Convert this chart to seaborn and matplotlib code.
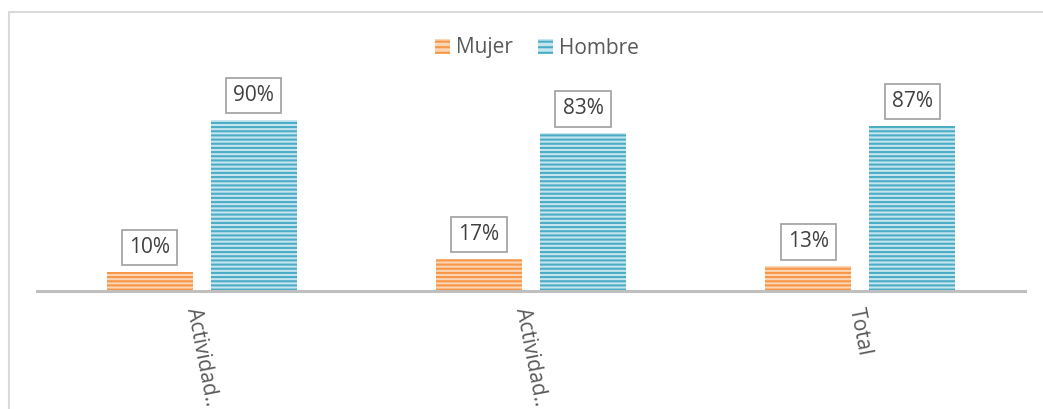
import matplotlib
matplotlib.use("Agg")
import matplotlib.pyplot as plt
import seaborn as sns
import pandas as pd
from matplotlib.patches import Rectangle, Patch

categories = ["Actividad 1", "Actividad 2", "Total"]
tick_labels = ["Actividad..", "Actividad..", "Total"]
series = ["Mujer", "Hombre"]
mujer = [0.10, 0.17, 0.13]
hombre = [0.90, 0.83, 0.87]

df = pd.DataFrame({
    "cat": categories * 2,
    "serie": ["Mujer"] * 3 + ["Hombre"] * 3,
    "val": mujer + hombre,
})

sns.set_theme(style="white")
plt.rcParams["font.family"] = ["Open Sans", "DejaVu Sans"]
plt.rcParams["hatch.linewidth"] = 1.5

dark = {"Mujer": "#F79646", "Hombre": "#4BACC6"}
light = {"Mujer": "#FCD5B5", "Hombre": "#C5E6EF"}
hatch = "----"

W, H = 1043, 409
fig = plt.figure(figsize=(W / 100, H / 100), dpi=100)
ax = fig.add_axes([37 / W, (H - 291) / H, 988 / W, 190 / H])

sns.barplot(data=df, x="cat", y="val", hue="serie", order=categories,
            hue_order=series, palette=dark, width=0.632, gap=0.173,
            legend=False, ax=ax)

for cont, s in zip(ax.containers, series):
    for p in cont:
        p.set_facecolor(light[s])
        p.set_edgecolor(dark[s])
        p.set_linewidth(0)
        p.set_hatch(hatch)
        if hasattr(p, "set_hatchcolor"):
            p.set_hatchcolor(dark[s])
    ax.bar_label(cont, labels=[f"{v:.0%}" for v in cont.datavalues],
                 padding=10, fontsize=15, color="#404040",
                 bbox=dict(boxstyle="square,pad=0.35", fc="white",
                           ec="#A6A6A6", lw=1.3))

ax.set_ylim(0, 1)
ax.set_xlim(-0.5, 2.5)
ax.set_xlabel("")
ax.set_ylabel("")
ax.set_yticks([])
ax.set_xticks(range(len(categories)))
ax.set_xticklabels(tick_labels, rotation=-79, ha="center", va="top",
                   fontsize=15, color="#595959")
ax.tick_params(axis="x", length=0, pad=11)
for side in ["top", "left", "right"]:
    ax.spines[side].set_visible(False)
ax.spines["bottom"].set_color("#BFBFBF")
ax.spines["bottom"].set_linewidth(2.2)
ax.patch.set_alpha(0)

handles = []
for s in series:
    h = Patch(facecolor=light[s], edgecolor=dark[s], hatch="---", linewidth=0)
    handles.append(h)
leg = fig.legend(handles, series, loc="center", bbox_to_anchor=(0.515, 1 - 48 / H),
                 ncol=2, frameon=False, fontsize=15, handlelength=0.7,
                 handleheight=0.75, handletextpad=0.3, columnspacing=1.2,
                 labelcolor="#595959")

fig.patches.append(Rectangle((9 / W, -0.1), 1.2, (H - 12) / H + 0.1,
                             transform=fig.transFigure, fill=False,
                             edgecolor="#D9D9D9", linewidth=1.5, zorder=-1))

fig.savefig("out.png", dpi=100)
